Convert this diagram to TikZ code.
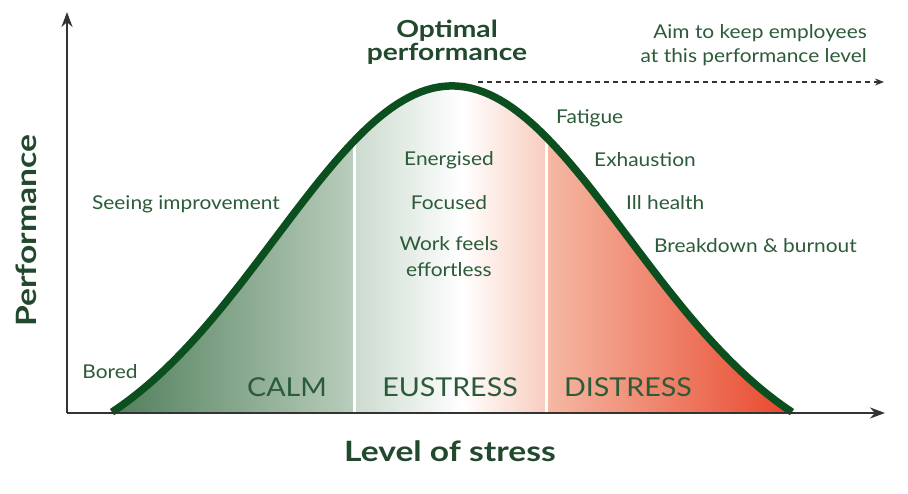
\documentclass[tikz,border=0pt]{standalone}
\usepackage{fontspec}
\setmainfont{Lato}[FakeStretch=1.1]
\newfontfamily\titlefont{Lato}[FakeStretch=1.2]
\usetikzlibrary{arrows.meta}

\definecolor{curvegreen}{HTML}{0B4F1F}
\definecolor{textgreen}{HTML}{2B5B38}
\definecolor{calmdark}{HTML}{4B7B56}
\definecolor{calmlight}{HTML}{B9CDBC}
\definecolor{eulight}{HTML}{CBDACE}
\definecolor{eupink}{HTML}{F8CDBF}
\definecolor{dislight}{HTML}{F5B9A4}
\definecolor{disdark}{HTML}{E8452B}
\definecolor{axisgray}{HTML}{333333}

% the bell, centred on x=452, baseline y=413
\newcommand{\bellcurve}{plot[domain=-340:340,samples=120]
  ({452+\x},{413-(387*exp(-(\x/250)*(\x/250))-60)})}

\begin{document}
\begin{tikzpicture}[x=1pt,y=-1pt,
    lbl/.style  = {text=textgreen, inner sep=0pt, font=\fontsize{19}{26}\selectfont},
    zone/.style = {text=textgreen, inner sep=0pt, font=\fontsize{26}{30}\selectfont},
    title/.style= {text=textgreen!80!black, inner sep=0pt, align=center,
                   font=\titlefont\fontsize{28}{30}\bfseries\selectfont},
    axis/.style = {draw=axisgray, line width=2pt, -{Stealth[length=15pt,width=11pt]}}]
  \useasboundingbox (0,0) rectangle (908,494);

  % shaded zones under the curve
  \begin{scope}
    \clip \bellcurve -- cycle;
    \shade[left color=calmdark, right color=calmlight] (100,413) rectangle (354,70);
    \shade[left color=eulight, right color=white] (354,413) rectangle (462,70);
    \shade[left color=white, right color=eupink] (462,413) rectangle (546,70);
    \shade[left color=dislight, right color=disdark] (546,413) rectangle (795,70);
    \draw[white, line width=3pt] (354,413) -- (354,70);
    \draw[white, line width=3pt] (546,413) -- (546,70);
  \end{scope}
  \draw[curvegreen, line width=7.5pt] \bellcurve;

  % axes
  \coordinate (origin) at (67,413);
  \coordinate (ytip) at (67,12);
  \coordinate (xtip) at (885,413);
  \draw[axis] (origin) -- (ytip);
  \draw[axis] (origin) -- (xtip);

  % optimal level
  \coordinate (aimstart) at (478,82);
  \coordinate (aimend) at (884,82);
  \draw[axisgray, line width=1.3pt, dash pattern=on 5pt off 4pt,
        -{Stealth[length=9pt,width=7pt]}] (aimstart) -- (aimend);

  \node[title, font=\titlefont\fontsize{23.5}{23}\bfseries\selectfont] (optimal) at (447,42) {Optimal\\performance};
  \node[lbl, font=\fontsize{19}{24}\selectfont, align=right, anchor=east] (aim) at (867,45)
    {Aim to keep employees\\at this performance level};

  \node[title, rotate=90] (perf) at (26,231) {Performance};
  \node[title] (stress) at (450,451) {Level of stress};

  \node[lbl, anchor=east] (seeing) at (280,204) {Seeing improvement};
  \node[lbl] (bored) at (110,372) {Bored};
  \node[lbl] (energised) at (449,160) {Energised};
  \node[lbl] (focused) at (449,203) {Focused};
  \node[lbl, align=center] (effortless) at (449,257) {Work feels\\effortless};
  \node[lbl, anchor=west] (fatigue) at (556,118) {Fatigue};
  \node[lbl, anchor=west] (exhaustion) at (594,160) {Exhaustion};
  \node[lbl, anchor=west] (illhealth) at (626,203) {Ill health};
  \node[lbl, anchor=west] (burnout) at (654,246) {Breakdown \& burnout};

  \node[zone] (calm) at (287,387) {CALM};
  \node[zone] (eustress) at (450,387) {EUSTRESS};
  \node[zone] (distress) at (628,387) {DISTRESS};
\end{tikzpicture}
\end{document}
